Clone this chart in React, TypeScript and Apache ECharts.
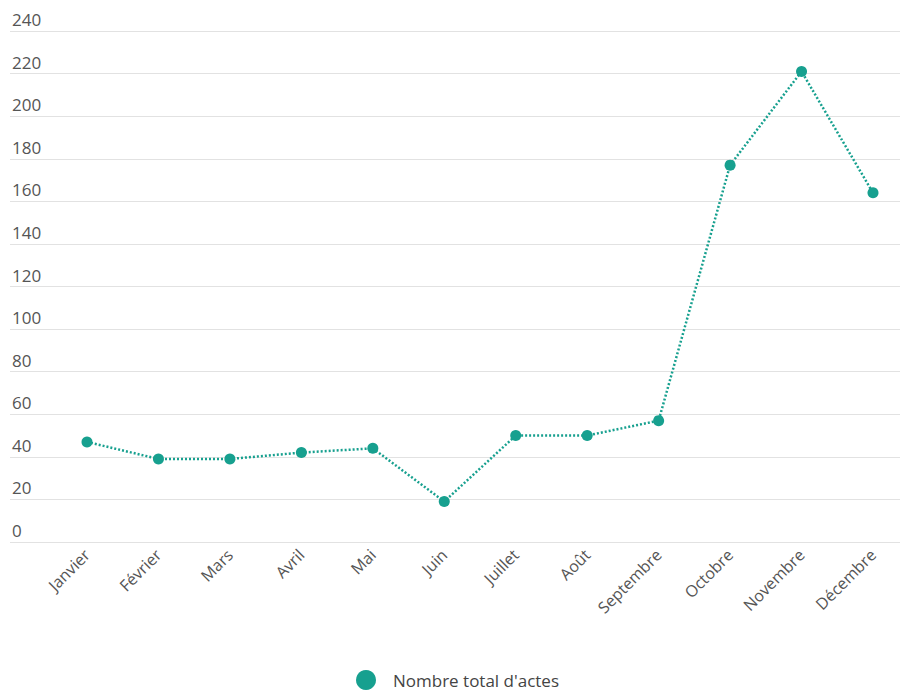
import React, { useEffect, useRef } from "react";
import * as echarts from "echarts";

const months = [
  "Janvier", "Février", "Mars", "Avril", "Mai", "Juin",
  "Juillet", "Août", "Septembre", "Octobre", "Novembre", "Décembre",
];
const totalActes = [47, 39, 39, 42, 44, 19, 50, 50, 57, 177, 221, 164];
const seriesName = "Nombre total d'actes";
const yMin = 0;
const yMax = 240;
const yStep = 20;

const TEAL = "#17a08f";
const FONT = "'Open Sans', Lato, sans-serif";

export default function App() {
  const ref = useRef<HTMLDivElement>(null);
  useEffect(() => {
    if (!ref.current) return;
    const chart = echarts.init(ref.current, undefined, { renderer: "svg" });
    chart.setOption({
      animation: false,
      textStyle: { fontFamily: FONT },
      grid: [
        { left: 10, right: 0, top: 31, bottom: 148, containLabel: false },
        { left: 87, right: 27, top: 31, bottom: 148, containLabel: false },
      ],
      xAxis: [
        { type: "value", gridIndex: 0, min: 0, max: 1, show: false },
        {
          type: "category",
          gridIndex: 1,
          data: months,
          boundaryGap: false,
          axisLine: { show: false },
          axisTick: { show: false },
          splitLine: { show: false },
          axisLabel: {
            rotate: 45,
            margin: 10,
            color: "#555",
            fontSize: 16,
            fontFamily: FONT,
            interval: 0,
          },
        },
      ],
      yAxis: [
        {
          type: "value",
          gridIndex: 0,
          min: yMin,
          max: yMax,
          interval: yStep,
          axisLine: { show: false },
          axisTick: { show: false },
          splitLine: { show: true, lineStyle: { color: "#e2e2e2", width: 1 } },
          axisLabel: {
            inside: true,
            margin: 2,
            verticalAlign: "bottom",
            align: "left",
            padding: [0, 0, 3, 0],
            color: "#555",
            fontSize: 17,
            fontFamily: FONT,
          },
        },
        {
          type: "value",
          gridIndex: 1,
          min: yMin,
          max: yMax,
          interval: yStep,
          show: false,
          splitLine: { show: false },
        },
      ],
      legend: {
        data: [{ name: seriesName, icon: "circle" }],
        left: 356,
        top: 670,
        itemWidth: 20,
        itemHeight: 20,
        itemGap: 10,
        padding: 0,
        textStyle: {
          color: "#444",
          fontSize: 17,
          fontFamily: FONT,
          padding: [2, 0, 0, 12],
        },
      },
      series: [
        {
          name: seriesName,
          type: "line",
          xAxisIndex: 1,
          yAxisIndex: 1,
          data: totalActes,
          symbol: "circle",
          symbolSize: 11,
          itemStyle: { color: TEAL },
          lineStyle: { color: TEAL, width: 2.5, type: [2, 2] },
        },
      ],
    });
    return () => chart.dispose();
  }, []);
  return <div ref={ref} style={{ width: 900, height: 690, position: "absolute", left: 0, top: 0 }} />;
}
